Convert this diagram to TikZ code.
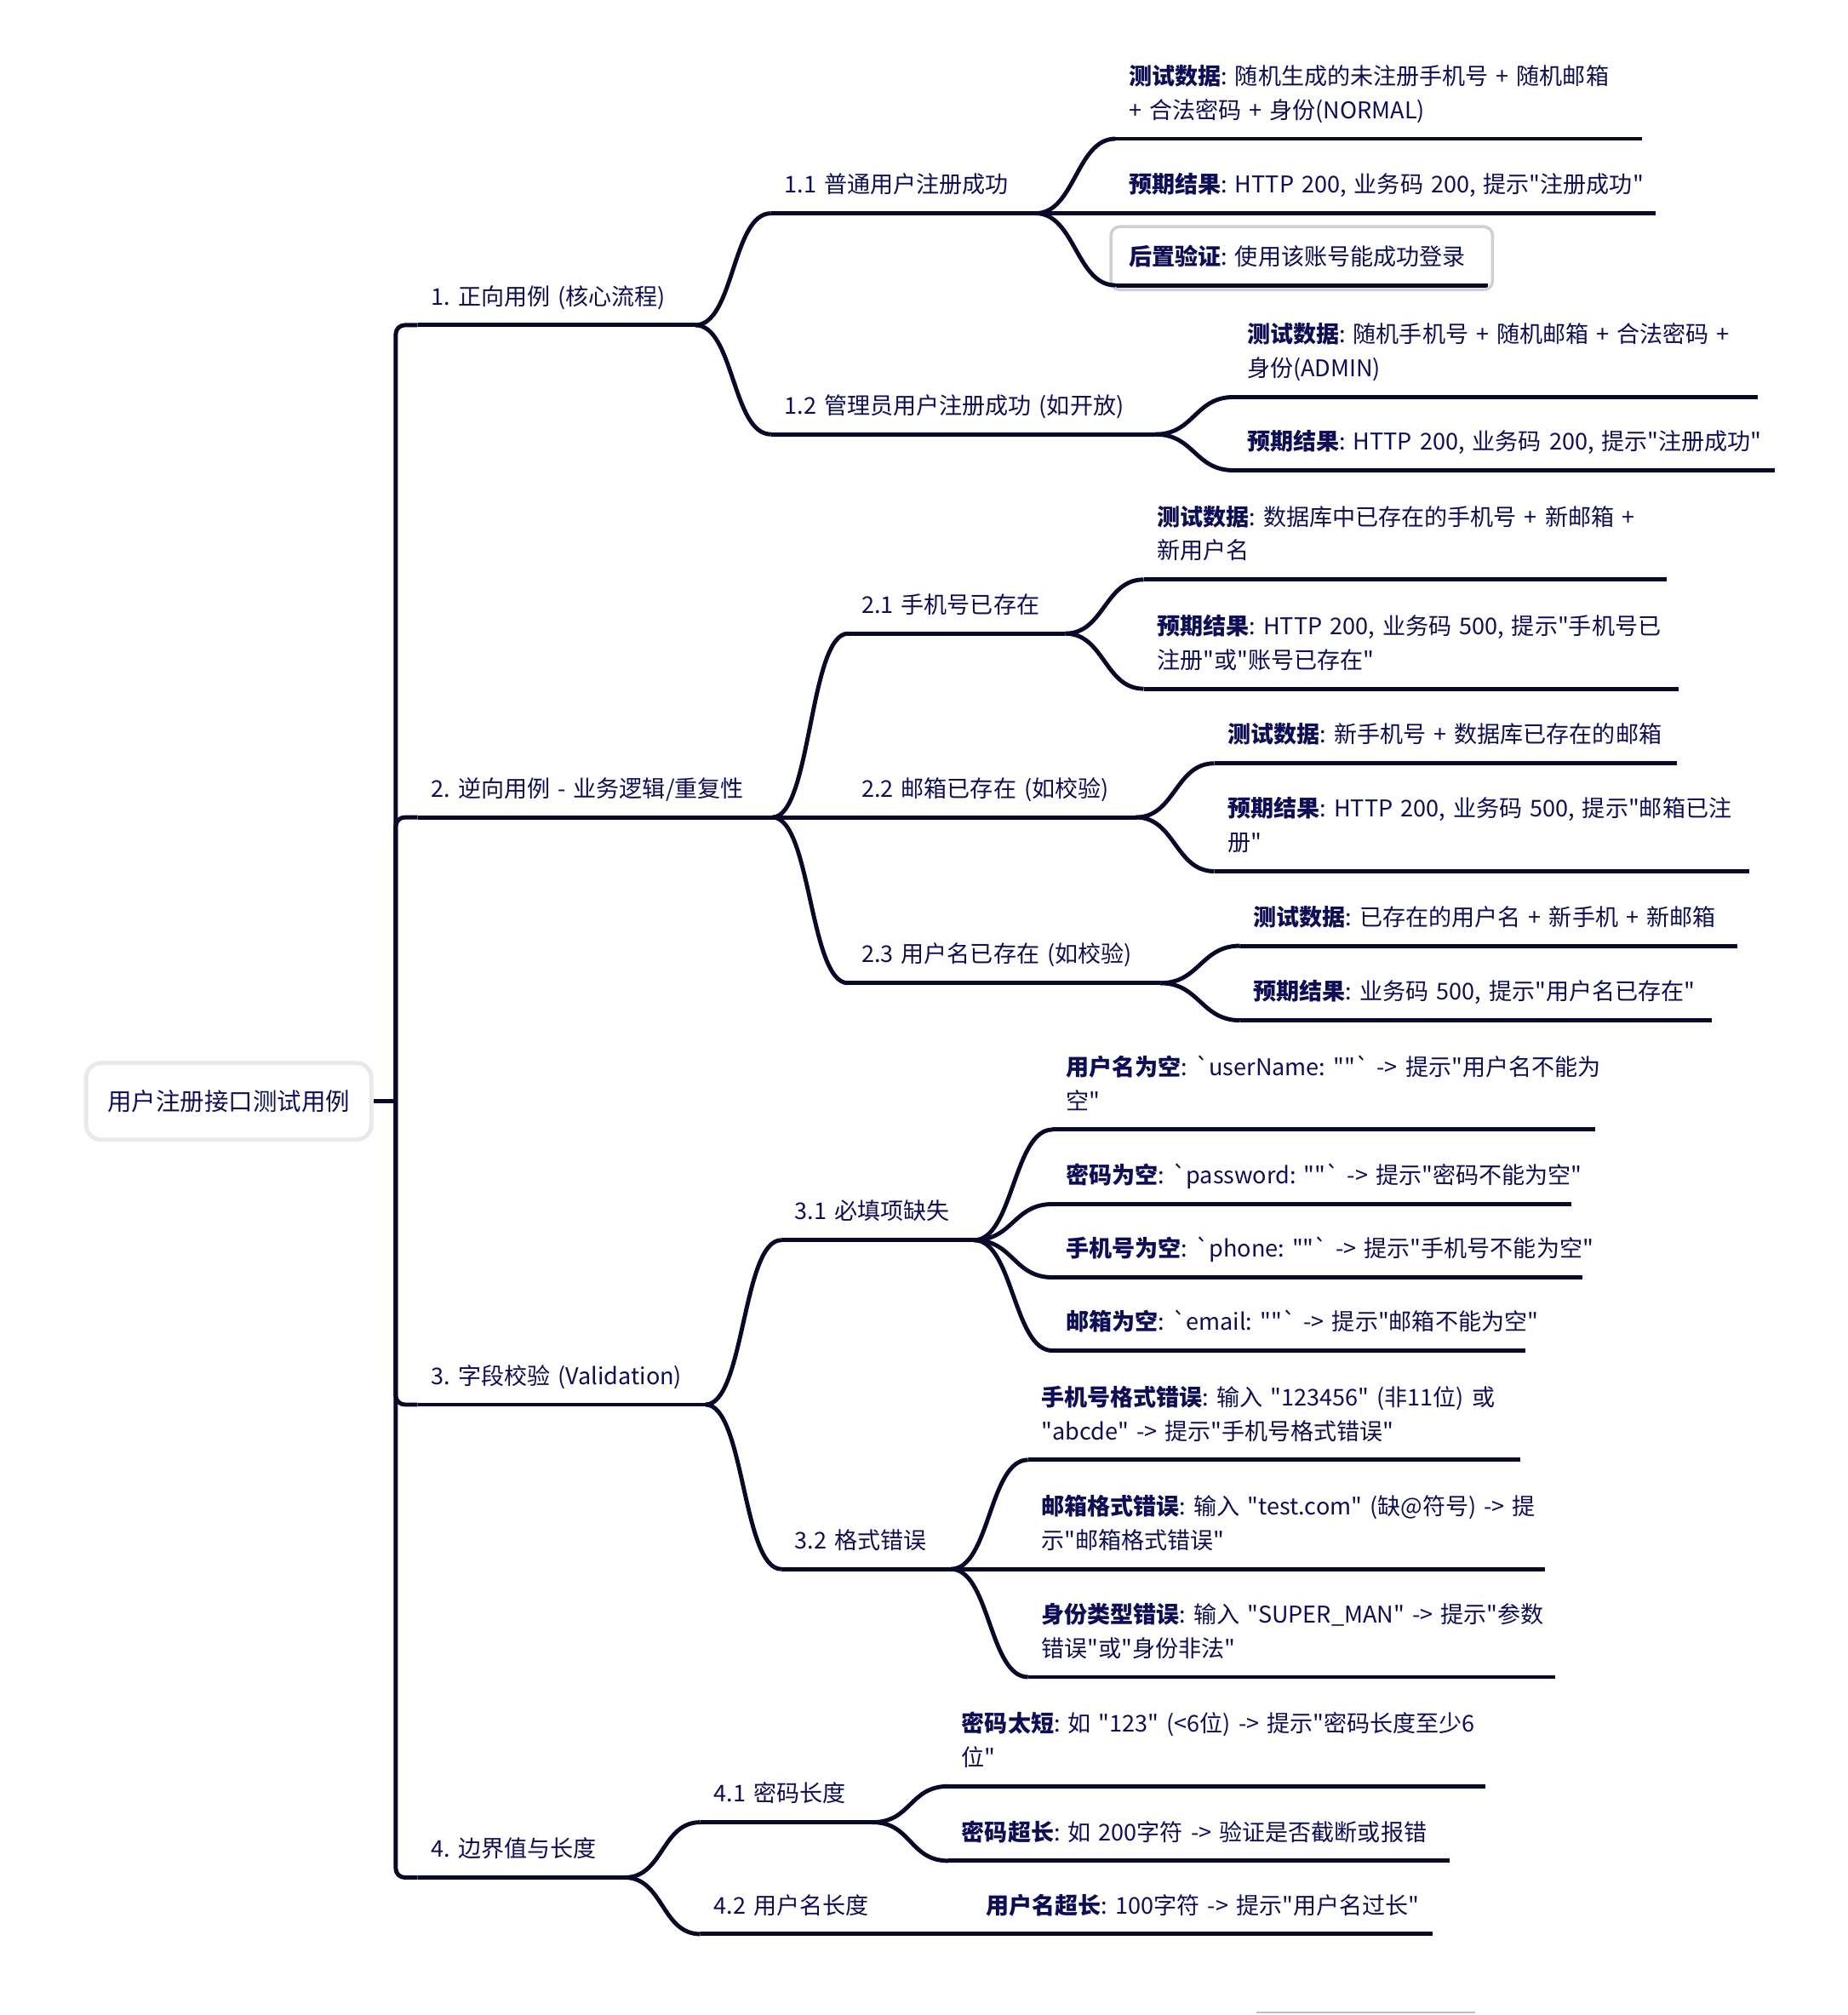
\documentclass[tikz,border=0pt]{standalone}
\usepackage{fontspec}
\setmainfont{Noto Sans CJK SC}[Ligatures=TeXOff]
\usepackage{xcolor}
\usepackage{tikz}
\usetikzlibrary{fit}
\frenchspacing

\definecolor{inkblue}{RGB}{14,14,86}
\definecolor{navyline}{RGB}{8,8,40}
\definecolor{rootgray}{RGB}{234,232,236}
\definecolor{selgray}{RGB}{208,208,212}

\begin{document}
\begin{tikzpicture}[
  x=0.015097cm, y=-0.015097cm,
  mapline/.style={draw=navyline, line width=1.4pt},
  topic/.style={anchor=south west, inner xsep=4.3pt, inner ysep=3.2pt, align=left, text=inkblue,
    font=\fontsize{7.7}{11.3}\selectfont,
    execute at begin node={\rightskip=0pt plus 1fil minus 2cm},
    execute at end node=\strut,
    append after command={(\tikzlastnode.south west) edge[mapline] (\tikzlastnode.south east)}},
  link/.style={mapline, out=0, in=180, out distance=13pt, in distance=13pt},
  spine/.style={mapline, rounded corners=3pt},
  rootbox/.style={draw=rootgray, line width=1.4pt, rounded corners=5pt, minimum width=3.35cm,
    minimum height=0.9cm, text=inkblue, font=\fontsize{8.1}{10}\selectfont},
  selbox/.style={draw=selgray, line width=1pt, rounded corners=3pt, inner sep=1.5pt}
]
\useasboundingbox (0,0) rectangle (1438,1568);

\node[rootbox] (root) at (178,857) {用户注册接口测试用例};
\coordinate (hub) at (308,857);

\node[topic, text width=2.944cm] (n1) at (325,253) {1. 正向用例 (核心流程)};
\node[topic, text width=3.850cm] (n2) at (325,636) {2. 逆向用例 - 业务逻辑/重复性};
\node[topic, text width=3.065cm] (n3) at (325,1093) {3. 字段校验 (Validation)};
\node[topic, text width=2.114cm] (n4) at (325,1461) {4. 边界值与长度};

\node[topic, text width=2.793cm] (n11) at (600,166) {1.1 普通用户注册成功};
\node[topic, text width=4.197cm] (n12) at (600,338) {1.2 管理员用户注册成功 (如开放)};
\node[topic, text width=2.234cm] (n21) at (660,493) {2.1 手机号已存在};
\node[topic, text width=3.065cm] (n22) at (660,636) {2.2 邮箱已存在 (如校验)};
\node[topic, text width=3.352cm] (n23) at (660,765) {2.3 用户名已存在 (如校验)};
\node[topic, text width=1.948cm] (n31) at (608,965) {3.1 必填项缺失};
\node[topic, text width=1.676cm] (n32) at (608,1221) {3.2 格式错误};
\node[topic, text width=1.706cm] (n41) at (545,1418) {4.1 密码长度};
\node[topic, text width=1.993cm] (n42) at (545,1505) {4.2 用户名长度};

\node[topic, text width=5.873cm] (l11a) at (868,108) {\textbf{测试数据}: 随机生成的未注册手机号 + 随机邮箱\\+ 合法密码 + 身份(NORMAL)};
\node[topic, text width=6.024cm] (l11b) at (868,166) {\textbf{预期结果}: HTTP 200, 业务码 200, 提示"注册成功"};
\node[topic, text width=4.061cm] (l11c) at (868,222) {\textbf{后置验证}: 使用该账号能成功登录};
\node[topic, text width=5.843cm] (l12a) at (960,309) {\textbf{测试数据}: 随机手机号 + 随机邮箱 + 合法密码 +\\身份(ADMIN)};
\node[topic, text width=6.039cm] (l12b) at (960,366) {\textbf{预期结果}: HTTP 200, 业务码 200, 提示"注册成功"};
\node[topic, text width=5.827cm] (l21a) at (890,451) {\textbf{测试数据}: 数据库中已存在的手机号 + 新邮箱 +\\新用户名};
\node[topic, text width=5.963cm] (l21b) at (890,536) {\textbf{预期结果}: HTTP 200, 业务码 500, 提示"手机号已\\注册"或"账号已存在"};
\node[topic, text width=5.118cm] (l22a) at (945,594) {\textbf{测试数据}: 新手机号 + 数据库已存在的邮箱};
\node[topic, text width=5.963cm] (l22b) at (945,678) {\textbf{预期结果}: HTTP 200, 业务码 500, 提示"邮箱已注\\册"};
\node[topic, text width=5.526cm] (l23a) at (965,736) {\textbf{测试数据}: 已存在的用户名 + 新手机 + 新邮箱};
\node[topic, text width=5.224cm] (l23b) at (965,794) {\textbf{预期结果}: 业务码 500, 提示"用户名已存在"};
\node[topic, text width=6.054cm] (l31a) at (819,879) {\textbf{用户名为空}: `userName: ""` -> 提示"用户名不能为\\空"};
\node[topic, text width=5.782cm] (l31b) at (819,937) {\textbf{密码为空}: `password: ""` -> 提示"密码不能为空"};
\node[topic, text width=5.903cm] (l31c) at (819,994) {\textbf{手机号为空}: `phone: ""` -> 提示"手机号不能为空"};
\node[topic, text width=5.239cm] (l31d) at (819,1051) {\textbf{邮箱为空}: `email: ""` -> 提示"邮箱不能为空"};
\node[topic, text width=5.465cm] (l32a) at (800,1136) {\textbf{手机号格式错误}: 输入 "123456" (非11位) 或\\"abcde" -> 提示"手机号格式错误"};
\node[topic, text width=5.752cm] (l32b) at (800,1221) {\textbf{邮箱格式错误}: 输入 "test.com" (缺@符号) -> 提\\示"邮箱格式错误"};
\node[topic, text width=5.873cm] (l32c) at (800,1305) {\textbf{身份类型错误}: 输入 "SUPER\_MAN" -> 提示"参数\\错误"或"身份非法"};
\node[topic, text width=5.994cm] (l41a) at (738,1390) {\textbf{密码太短}: 如 "123" (<6位) -> 提示"密码长度至少6\\位"};
\node[topic, text width=5.571cm] (l41b) at (738,1448) {\textbf{密码超长}: 如 200字符 -> 验证是否截断或报错};
\node[topic, text width=5.088cm] (l42a) at (757,1505) {\textbf{用户名超长}: 100字符 -> 提示"用户名过长"};

\node[selbox, fit=(l11c)] (sel) {};

\draw[mapline] (root.east) -- (hub);
\draw[spine] (hub) |- (n1.south west);
\draw[spine] (hub) |- (n2.south west);
\draw[spine] (hub) |- (n3.south west);
\draw[spine] (hub) |- (n4.south west);

\draw[link] (n1.south east) to (n11.south west);
\draw[link] (n1.south east) to (n12.south west);
\draw[link] (n2.south east) to (n21.south west);
\draw[link] (n2.south east) to (n22.south west);
\draw[link] (n2.south east) to (n23.south west);
\draw[link] (n3.south east) to (n31.south west);
\draw[link] (n3.south east) to (n32.south west);
\draw[link] (n4.south east) to (n41.south west);
\draw[link] (n4.south east) to (n42.south west);

\draw[link] (n11.south east) to (l11a.south west);
\draw[link] (n11.south east) to (l11b.south west);
\draw[link] (n11.south east) to (l11c.south west);
\draw[link] (n12.south east) to (l12a.south west);
\draw[link] (n12.south east) to (l12b.south west);
\draw[link] (n21.south east) to (l21a.south west);
\draw[link] (n21.south east) to (l21b.south west);
\draw[link] (n22.south east) to (l22a.south west);
\draw[link] (n22.south east) to (l22b.south west);
\draw[link] (n23.south east) to (l23a.south west);
\draw[link] (n23.south east) to (l23b.south west);
\draw[link] (n31.south east) to (l31a.south west);
\draw[link] (n31.south east) to (l31b.south west);
\draw[link] (n31.south east) to (l31c.south west);
\draw[link] (n31.south east) to (l31d.south west);
\draw[link] (n32.south east) to (l32a.south west);
\draw[link] (n32.south east) to (l32b.south west);
\draw[link] (n32.south east) to (l32c.south west);
\draw[link] (n41.south east) to (l41a.south west);
\draw[link] (n41.south east) to (l41b.south west);
\draw[link] (n42.south east) to (l42a.south west);

\draw[gray!50, line width=0.7pt] (978,1566) -- (1148,1566);
\end{tikzpicture}
\end{document}
